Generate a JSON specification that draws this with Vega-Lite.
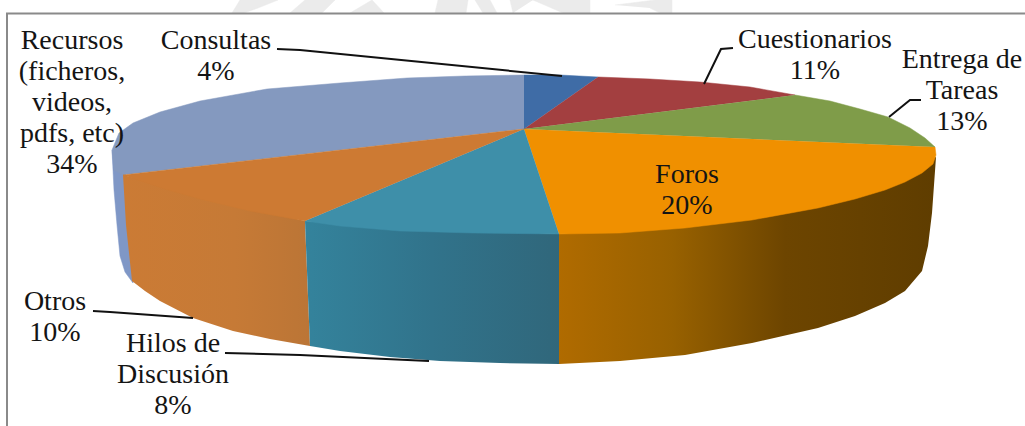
{"$schema":"https://vega.github.io/schema/vega-lite/v6.json","width":1025,"height":426,"padding":0,"autosize":"none","background":"white","config":{"view":{"stroke":null}},
"datasets":{"v":[
{"s":"Recursos","p":"side","i":1,"x":112,"y":150},{"s":"Recursos","p":"side","i":2,"x":114,"y":190},{"s":"Recursos","p":"side","i":3,"x":117,"y":225},{"s":"Recursos","p":"side","i":4,"x":120,"y":256},{"s":"Recursos","p":"side","i":5,"x":125,"y":272},{"s":"Recursos","p":"side","i":6,"x":133,"y":283},{"s":"Recursos","p":"side","i":7,"x":140,"y":200},
{"s":"Otros","p":"grad","i":1,"x":123,"y":175},{"s":"Otros","p":"grad","i":2,"x":126,"y":225},{"s":"Otros","p":"grad","i":3,"x":132,"y":281},{"s":"Otros","p":"grad","i":4,"x":145,"y":291},{"s":"Otros","p":"grad","i":5,"x":160,"y":301},{"s":"Otros","p":"grad","i":6,"x":193,"y":318},{"s":"Otros","p":"grad","i":7,"x":233,"y":331},{"s":"Otros","p":"grad","i":8,"x":270,"y":339},{"s":"Otros","p":"grad","i":9,"x":310,"y":346},{"s":"Otros","p":"grad","i":10,"x":305,"y":221},{"s":"Otros","p":"grad","i":11,"x":240,"y":205},
{"s":"Hilos","p":"grad","i":1,"x":305,"y":221},{"s":"Hilos","p":"grad","i":2,"x":310,"y":346},{"s":"Hilos","p":"grad","i":3,"x":340,"y":351},{"s":"Hilos","p":"grad","i":4,"x":390,"y":357},{"s":"Hilos","p":"grad","i":5,"x":440,"y":361},{"s":"Hilos","p":"grad","i":6,"x":500,"y":363},{"s":"Hilos","p":"grad","i":7,"x":559,"y":364},{"s":"Hilos","p":"grad","i":8,"x":559,"y":234},
{"s":"Foros","p":"grad","i":1,"x":559,"y":234},{"s":"Foros","p":"grad","i":2,"x":559,"y":364},{"s":"Foros","p":"grad","i":3,"x":620,"y":361},{"s":"Foros","p":"grad","i":4,"x":685,"y":355},{"s":"Foros","p":"grad","i":5,"x":752,"y":343},{"s":"Foros","p":"grad","i":6,"x":818,"y":328},{"s":"Foros","p":"grad","i":7,"x":855,"y":316},{"s":"Foros","p":"grad","i":8,"x":885,"y":303},{"s":"Foros","p":"grad","i":9,"x":905,"y":291},{"s":"Foros","p":"grad","i":10,"x":922,"y":271},{"s":"Foros","p":"grad","i":11,"x":928,"y":246},{"s":"Foros","p":"grad","i":12,"x":932,"y":213},{"s":"Foros","p":"grad","i":13,"x":936,"y":157},{"s":"Foros","p":"grad","i":14,"x":818,"y":205},
{"s":"Recursos","p":"top","i":1,"x":524,"y":129},{"s":"Recursos","p":"top","i":2,"x":524,"y":75},{"s":"Recursos","p":"top","i":3,"x":465,"y":76},{"s":"Recursos","p":"top","i":4,"x":407,"y":78},{"s":"Recursos","p":"top","i":5,"x":340,"y":83},{"s":"Recursos","p":"top","i":6,"x":267,"y":89},{"s":"Recursos","p":"top","i":7,"x":200,"y":101},{"s":"Recursos","p":"top","i":8,"x":160,"y":112},{"s":"Recursos","p":"top","i":9,"x":133,"y":123},{"s":"Recursos","p":"top","i":10,"x":119,"y":133},{"s":"Recursos","p":"top","i":11,"x":112,"y":150},{"s":"Recursos","p":"top","i":12,"x":114,"y":170},{"s":"Recursos","p":"top","i":13,"x":123,"y":175},
{"s":"Consultas","p":"top","i":1,"x":524,"y":129},{"s":"Consultas","p":"top","i":2,"x":598,"y":77},{"s":"Consultas","p":"top","i":3,"x":560,"y":75},{"s":"Consultas","p":"top","i":4,"x":524,"y":75},
{"s":"Cuestionarios","p":"top","i":1,"x":524,"y":129},{"s":"Cuestionarios","p":"top","i":2,"x":795,"y":95},{"s":"Cuestionarios","p":"top","i":3,"x":750,"y":87},{"s":"Cuestionarios","p":"top","i":4,"x":700,"y":82},{"s":"Cuestionarios","p":"top","i":5,"x":650,"y":79},{"s":"Cuestionarios","p":"top","i":6,"x":598,"y":77},
{"s":"Entrega","p":"top","i":1,"x":524,"y":129},{"s":"Entrega","p":"top","i":2,"x":935,"y":147},{"s":"Entrega","p":"top","i":3,"x":925,"y":138},{"s":"Entrega","p":"top","i":4,"x":910,"y":128},{"s":"Entrega","p":"top","i":5,"x":888,"y":117},{"s":"Entrega","p":"top","i":6,"x":860,"y":109},{"s":"Entrega","p":"top","i":7,"x":830,"y":101},{"s":"Entrega","p":"top","i":8,"x":795,"y":95},
{"s":"Foros","p":"top","i":1,"x":524,"y":129},{"s":"Foros","p":"top","i":2,"x":559,"y":234},{"s":"Foros","p":"top","i":3,"x":620,"y":233},{"s":"Foros","p":"top","i":4,"x":685,"y":228},{"s":"Foros","p":"top","i":5,"x":752,"y":220},{"s":"Foros","p":"top","i":6,"x":818,"y":208},{"s":"Foros","p":"top","i":7,"x":855,"y":199},{"s":"Foros","p":"top","i":8,"x":885,"y":190},{"s":"Foros","p":"top","i":9,"x":905,"y":182},{"s":"Foros","p":"top","i":10,"x":922,"y":173},{"s":"Foros","p":"top","i":11,"x":933,"y":164},{"s":"Foros","p":"top","i":12,"x":936,"y":155},{"s":"Foros","p":"top","i":13,"x":935,"y":147},
{"s":"Hilos","p":"top","i":1,"x":524,"y":129},{"s":"Hilos","p":"top","i":2,"x":305,"y":221},{"s":"Hilos","p":"top","i":3,"x":340,"y":226},{"s":"Hilos","p":"top","i":4,"x":400,"y":231},{"s":"Hilos","p":"top","i":5,"x":473,"y":233},{"s":"Hilos","p":"top","i":6,"x":559,"y":234},
{"s":"Otros","p":"top","i":1,"x":524,"y":129},{"s":"Otros","p":"top","i":2,"x":123,"y":175},{"s":"Otros","p":"top","i":3,"x":165,"y":189},{"s":"Otros","p":"top","i":4,"x":200,"y":199},{"s":"Otros","p":"top","i":5,"x":250,"y":211},{"s":"Otros","p":"top","i":6,"x":305,"y":221},
{"s":"Consultas","p":"lead","i":1,"x":277,"y":49},{"s":"Consultas","p":"lead","i":2,"x":300,"y":50},{"s":"Consultas","p":"lead","i":3,"x":562,"y":76},
{"s":"Cuestionarios","p":"lead","i":1,"x":733,"y":48},{"s":"Cuestionarios","p":"lead","i":2,"x":721,"y":49},{"s":"Cuestionarios","p":"lead","i":3,"x":704,"y":84},
{"s":"Entrega","p":"lead","i":1,"x":921,"y":100},{"s":"Entrega","p":"lead","i":2,"x":910,"y":100},{"s":"Entrega","p":"lead","i":3,"x":889,"y":117},
{"s":"Otros","p":"lead","i":1,"x":93,"y":311},{"s":"Otros","p":"lead","i":2,"x":110,"y":312},{"s":"Otros","p":"lead","i":3,"x":193,"y":318},
{"s":"Hilos","p":"lead","i":1,"x":225,"y":353},{"s":"Hilos","p":"lead","i":2,"x":300,"y":355},{"s":"Hilos","p":"lead","i":3,"x":429,"y":361},
{"s":"frame","p":"frame","i":1,"x":7,"y":426},{"s":"frame","p":"frame","i":2,"x":7,"y":13.5},{"s":"frame","p":"frame","i":3,"x":1025,"y":13.5},
{"s":"w1","p":"mark","i":1,"x":232,"y":13},{"s":"w1","p":"mark","i":2,"x":240,"y":0},{"s":"w1","p":"mark","i":3,"x":278,"y":0},{"s":"w1","p":"mark","i":4,"x":258,"y":8},{"s":"w1","p":"mark","i":5,"x":244,"y":13},
{"s":"w2","p":"mark","i":1,"x":290,"y":13},{"s":"w2","p":"mark","i":2,"x":305,"y":0},{"s":"w2","p":"mark","i":3,"x":335,"y":0},{"s":"w2","p":"mark","i":4,"x":322,"y":13},
{"s":"w3","p":"mark","i":1,"x":350,"y":13},{"s":"w3","p":"mark","i":2,"x":372,"y":0},{"s":"w3","p":"mark","i":3,"x":384,"y":13},
{"s":"w4","p":"mark","i":1,"x":435,"y":13},{"s":"w4","p":"mark","i":2,"x":438,"y":0},{"s":"w4","p":"mark","i":3,"x":468,"y":0},{"s":"w4","p":"mark","i":4,"x":466,"y":13},
{"s":"w5","p":"mark","i":1,"x":483,"y":13},{"s":"w5","p":"mark","i":2,"x":475,"y":0},{"s":"w5","p":"mark","i":3,"x":490,"y":0},{"s":"w5","p":"mark","i":4,"x":497,"y":13},
{"s":"w6","p":"mark","i":1,"x":513,"y":13},{"s":"w6","p":"mark","i":2,"x":510,"y":0},{"s":"w6","p":"mark","i":3,"x":590,"y":0},{"s":"w6","p":"mark","i":4,"x":590,"y":13},{"s":"w6","p":"mark","i":5,"x":563,"y":13},{"s":"w6","p":"mark","i":6,"x":533,"y":0},
{"s":"w7","p":"mark","i":1,"x":615,"y":5},{"s":"w7","p":"mark","i":2,"x":655,"y":0},{"s":"w7","p":"mark","i":3,"x":672,"y":0},{"s":"w7","p":"mark","i":4,"x":672,"y":13},{"s":"w7","p":"mark","i":5,"x":660,"y":13},{"s":"w7","p":"mark","i":6,"x":650,"y":8}
],
"t":[
{"label":"Recursos\n(ficheros,\nvideos,\npdfs, etc)\n34%","x":72,"y":41},
{"label":"Consultas\n4%","x":216,"y":41},
{"label":"Cuestionarios\n11%","x":815,"y":40},
{"label":"Entrega de\nTareas\n13%","x":962,"y":60},
{"label":"Foros\n20%","x":687,"y":175},
{"label":"Otros\n10%","x":55,"y":302},
{"label":"Hilos de\nDiscusión\n8%","x":173,"y":344}
]},
"data":{"name":"v"},
"encoding":{"x":{"field":"x","type":"quantitative","scale":{"domain":[0,1025]},"axis":null},"y":{"field":"y","type":"quantitative","scale":{"domain":[426,0]},"axis":null},"order":{"field":"i","type":"quantitative"},"detail":{"field":"s"}},
"layer":[
{"transform":[{"filter":"datum.p=='mark'"}],"mark":{"type":"line","fill":"#ebebeb","stroke":"#ebebeb","strokeWidth":0.5}},
{"transform":[{"filter":"datum.p=='frame'"}],"mark":{"type":"line","stroke":"#8a8a8a","strokeWidth":2}},
{"transform":[{"filter":"datum.p=='side'"}],"mark":{"type":"line","fill":"#7f97c6","stroke":"#7f97c6","strokeWidth":0.5}},
{"transform":[{"filter":"datum.p=='grad' && datum.s=='Otros'"}],"mark":{"type":"line","strokeWidth":0,"fill":{"gradient":"linear","x1":0,"y1":0,"x2":1,"y2":0,"stops":[{"offset":0,"color":"#cb7b35"},{"offset":0.6,"color":"#c67a36"},{"offset":1,"color":"#bb7536"}]}}},
{"transform":[{"filter":"datum.p=='grad' && datum.s=='Hilos'"}],"mark":{"type":"line","strokeWidth":0,"fill":{"gradient":"linear","x1":0,"y1":0,"x2":1,"y2":0,"stops":[{"offset":0,"color":"#34839c"},{"offset":0.5,"color":"#31738b"},{"offset":1,"color":"#30677b"}]}}},
{"transform":[{"filter":"datum.p=='grad' && datum.s=='Foros'"}],"mark":{"type":"line","strokeWidth":0,"fill":{"gradient":"linear","x1":0,"y1":0,"x2":1,"y2":0,"stops":[{"offset":0,"color":"#b06b00"},{"offset":0.3,"color":"#986100"},{"offset":0.6,"color":"#6d4500"},{"offset":1,"color":"#5f3d00"}]}}},
{"transform":[{"filter":"datum.p=='top'"}],"mark":{"type":"line","strokeWidth":0.5},"encoding":{"fill":{"field":"s","type":"nominal","legend":null,"scale":{"domain":["Recursos","Consultas","Cuestionarios","Entrega","Foros","Hilos","Otros"],"range":["#8499bf","#3f6ca6","#a33f40","#7f9c49","#f09000","#3e8fa9","#cd7a33"]}},"stroke":{"field":"s","type":"nominal","legend":null,"scale":{"domain":["Recursos","Consultas","Cuestionarios","Entrega","Foros","Hilos","Otros"],"range":["#8499bf","#3f6ca6","#a33f40","#7f9c49","#f09000","#3e8fa9","#cd7a33"]}}}},
{"transform":[{"filter":"datum.p=='lead'"}],"mark":{"type":"line","stroke":"#111111","strokeWidth":2}},
{"data":{"name":"t"},"mark":{"type":"text","font":"Liberation Serif","fontSize":28,"lineBreak":"\n","lineHeight":31,"align":"center","baseline":"middle","color":"#141414"},"encoding":{"text":{"field":"label"},"x":{"field":"x","type":"quantitative"},"y":{"field":"y","type":"quantitative"},"order":null,"detail":null}}
]}
